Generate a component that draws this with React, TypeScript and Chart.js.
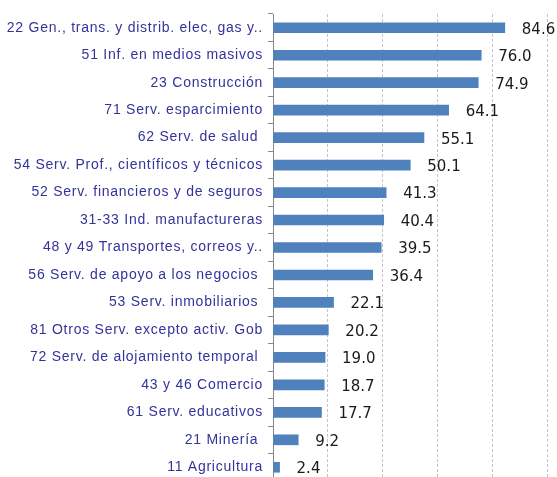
import { useEffect, useRef } from 'react';
import { Chart, registerables } from 'chart.js';

Chart.register(...registerables);

// Sectors (top to bottom) and their values
const categories = [
  '22 Gen., trans. y distrib. elec, gas y..',
  '51 Inf. en medios masivos',
  '23 Construcción',
  '71 Serv. esparcimiento',
  '62 Serv. de salud ',
  '54 Serv. Prof., científicos y técnicos',
  '52 Serv. financieros y de seguros',
  '31-33 Ind. manufactureras',
  '48 y 49 Transportes, correos y..',
  '56 Serv. de apoyo a los negocios ',
  '53 Serv. inmobiliarios ',
  '81 Otros Serv. excepto activ. Gob',
  '72 Serv. de alojamiento temporal ',
  '43 y 46 Comercio',
  '61 Serv. educativos',
  '21 Minería ',
  '11 Agricultura',
];

const values = [84.6, 76.0, 74.9, 64.1, 55.1, 50.1, 41.3, 40.4, 39.5, 36.4, 22.1, 20.2, 19.0, 18.7, 17.7, 9.2, 2.4];

const axisMin = 0;
const axisMax = 100;
const axisStep = 20;

// Wider letter spacing for the category names
const labelSpacing = {
  id: 'labelSpacing',
  beforeDraw(chart: any) {
    chart.ctx.letterSpacing = '0.75px';
  },
};

// Value printed to the right of each bar
const valueLabels = {
  id: 'valueLabels',
  afterDatasetsDraw(chart: any) {
    const ctx = chart.ctx;
    const meta = chart.getDatasetMeta(0);
    ctx.save();
    ctx.letterSpacing = '0px';
    ctx.font = '15px "DejaVu Sans"';
    ctx.fillStyle = '#1a1a1a';
    ctx.textAlign = 'left';
    ctx.textBaseline = 'middle';
    meta.data.forEach((bar: any, i: number) => {
      ctx.fillText(values[i].toFixed(1), bar.x + 17, bar.y + 2);
    });
    ctx.restore();
  },
};

export default function App() {
  const canvasRef = useRef<HTMLCanvasElement | null>(null);

  useEffect(() => {
    document.body.style.margin = '0';
    if (!canvasRef.current) return;
    const chart = new Chart(canvasRef.current, {
      type: 'bar',
      data: {
        labels: categories,
        datasets: [
          {
            data: values,
            backgroundColor: '#4F81BD',
            borderWidth: 0,
            barThickness: 10,
          },
        ],
      },
      options: {
        indexAxis: 'y',
        responsive: false,
        animation: false,
        layout: { padding: { top: 14, right: 10, left: 0, bottom: 9 } },
        plugins: {
          legend: { display: false },
          tooltip: { enabled: false },
        },
        scales: {
          x: {
            min: axisMin,
            max: axisMax,
            ticks: { display: false, stepSize: axisStep },
            grid: { color: '#c4c4c4', lineWidth: 1, drawTicks: false },
            border: { display: false, dash: [3, 2] },
            afterFit(scale: any) {
              scale.height = 0;
              scale.paddingLeft = 0;
              scale.paddingRight = 0;
            },
          },
          y: {
            ticks: {
              color: '#33339B',
              font: { family: '"Liberation Sans", Arial, sans-serif', size: 14 },
              padding: 5,
              autoSkip: false,
            },
            grid: {
              drawOnChartArea: false,
              color: '#868686',
              tickLength: 5,
              offset: true,
            },
            border: { color: '#868686' },
            afterFit(scale: any) {
              scale.width = 273;
              scale.paddingTop = 0;
              scale.paddingBottom = 0;
            },
          },
        },
      },
      plugins: [labelSpacing, valueLabels],
    });
    return () => chart.destroy();
  }, []);

  return (
    <div style={{ width: 557, height: 477, overflow: 'hidden' }}>
      <canvas ref={canvasRef} width={557} height={490} style={{ display: 'block' }} />
    </div>
  );
}
